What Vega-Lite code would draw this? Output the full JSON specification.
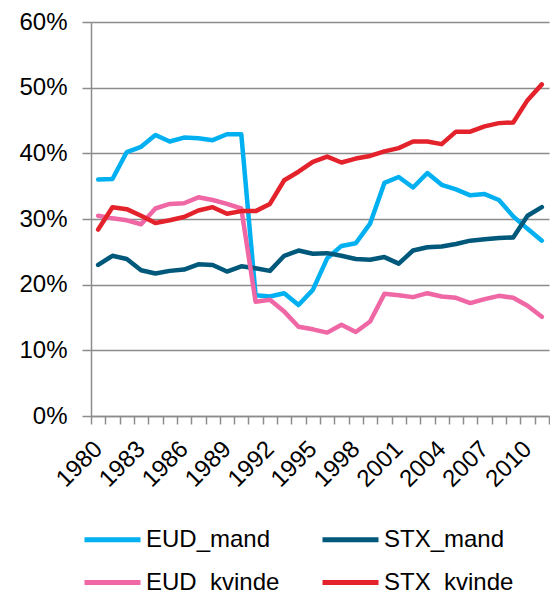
{
  "$schema": "https://vega.github.io/schema/vega-lite/v6.json",
  "width": 458,
  "height": 394,
  "autosize": {"type": "none"},
  "padding": {"left": 91, "top": 22, "right": 1, "bottom": 176},
  "config": {"view": {"stroke": null}, "font": "Liberation Sans"},
  "data": {"values": [
    {"year":1980,"series":"EUD_mand","value":36.0},{"year":1981,"series":"EUD_mand","value":36.1},{"year":1982,"series":"EUD_mand","value":40.2},{"year":1983,"series":"EUD_mand","value":41.0},{"year":1984,"series":"EUD_mand","value":42.8},{"year":1985,"series":"EUD_mand","value":41.8},{"year":1986,"series":"EUD_mand","value":42.4},{"year":1987,"series":"EUD_mand","value":42.3},{"year":1988,"series":"EUD_mand","value":42.0},{"year":1989,"series":"EUD_mand","value":42.9},{"year":1990,"series":"EUD_mand","value":42.9},{"year":1991,"series":"EUD_mand","value":18.4},{"year":1992,"series":"EUD_mand","value":18.2},{"year":1993,"series":"EUD_mand","value":18.7},{"year":1994,"series":"EUD_mand","value":16.9},{"year":1995,"series":"EUD_mand","value":19.2},{"year":1996,"series":"EUD_mand","value":24.0},{"year":1997,"series":"EUD_mand","value":25.9},{"year":1998,"series":"EUD_mand","value":26.3},{"year":1999,"series":"EUD_mand","value":29.3},{"year":2000,"series":"EUD_mand","value":35.5},{"year":2001,"series":"EUD_mand","value":36.4},{"year":2002,"series":"EUD_mand","value":34.8},{"year":2003,"series":"EUD_mand","value":37.0},{"year":2004,"series":"EUD_mand","value":35.2},{"year":2005,"series":"EUD_mand","value":34.5},{"year":2006,"series":"EUD_mand","value":33.6},{"year":2007,"series":"EUD_mand","value":33.8},{"year":2008,"series":"EUD_mand","value":32.9},{"year":2009,"series":"EUD_mand","value":30.4},{"year":2010,"series":"EUD_mand","value":28.5},{"year":2011,"series":"EUD_mand","value":26.7},
    {"year":1980,"series":"STX_mand","value":23.0},{"year":1981,"series":"STX_mand","value":24.4},{"year":1982,"series":"STX_mand","value":23.9},{"year":1983,"series":"STX_mand","value":22.2},{"year":1984,"series":"STX_mand","value":21.7},{"year":1985,"series":"STX_mand","value":22.1},{"year":1986,"series":"STX_mand","value":22.3},{"year":1987,"series":"STX_mand","value":23.1},{"year":1988,"series":"STX_mand","value":23.0},{"year":1989,"series":"STX_mand","value":22.0},{"year":1990,"series":"STX_mand","value":22.8},{"year":1991,"series":"STX_mand","value":22.5},{"year":1992,"series":"STX_mand","value":22.1},{"year":1993,"series":"STX_mand","value":24.4},{"year":1994,"series":"STX_mand","value":25.2},{"year":1995,"series":"STX_mand","value":24.7},{"year":1996,"series":"STX_mand","value":24.8},{"year":1997,"series":"STX_mand","value":24.4},{"year":1998,"series":"STX_mand","value":23.9},{"year":1999,"series":"STX_mand","value":23.8},{"year":2000,"series":"STX_mand","value":24.2},{"year":2001,"series":"STX_mand","value":23.2},{"year":2002,"series":"STX_mand","value":25.2},{"year":2003,"series":"STX_mand","value":25.7},{"year":2004,"series":"STX_mand","value":25.8},{"year":2005,"series":"STX_mand","value":26.2},{"year":2006,"series":"STX_mand","value":26.7},{"year":2007,"series":"STX_mand","value":26.9},{"year":2008,"series":"STX_mand","value":27.1},{"year":2009,"series":"STX_mand","value":27.2},{"year":2010,"series":"STX_mand","value":30.5},{"year":2011,"series":"STX_mand","value":31.8},
    {"year":1980,"series":"EUD_kvinde","value":30.5},{"year":1981,"series":"EUD_kvinde","value":30.1},{"year":1982,"series":"EUD_kvinde","value":29.8},{"year":1983,"series":"EUD_kvinde","value":29.2},{"year":1984,"series":"EUD_kvinde","value":31.6},{"year":1985,"series":"EUD_kvinde","value":32.3},{"year":1986,"series":"EUD_kvinde","value":32.4},{"year":1987,"series":"EUD_kvinde","value":33.3},{"year":1988,"series":"EUD_kvinde","value":32.9},{"year":1989,"series":"EUD_kvinde","value":32.3},{"year":1990,"series":"EUD_kvinde","value":31.6},{"year":1991,"series":"EUD_kvinde","value":17.4},{"year":1992,"series":"EUD_kvinde","value":17.7},{"year":1993,"series":"EUD_kvinde","value":15.9},{"year":1994,"series":"EUD_kvinde","value":13.6},{"year":1995,"series":"EUD_kvinde","value":13.2},{"year":1996,"series":"EUD_kvinde","value":12.7},{"year":1997,"series":"EUD_kvinde","value":13.9},{"year":1998,"series":"EUD_kvinde","value":12.8},{"year":1999,"series":"EUD_kvinde","value":14.4},{"year":2000,"series":"EUD_kvinde","value":18.6},{"year":2001,"series":"EUD_kvinde","value":18.4},{"year":2002,"series":"EUD_kvinde","value":18.1},{"year":2003,"series":"EUD_kvinde","value":18.7},{"year":2004,"series":"EUD_kvinde","value":18.2},{"year":2005,"series":"EUD_kvinde","value":18.0},{"year":2006,"series":"EUD_kvinde","value":17.2},{"year":2007,"series":"EUD_kvinde","value":17.8},{"year":2008,"series":"EUD_kvinde","value":18.3},{"year":2009,"series":"EUD_kvinde","value":18.0},{"year":2010,"series":"EUD_kvinde","value":16.8},{"year":2011,"series":"EUD_kvinde","value":15.1},
    {"year":1980,"series":"STX_kvinde","value":28.4},{"year":1981,"series":"STX_kvinde","value":31.8},{"year":1982,"series":"STX_kvinde","value":31.5},{"year":1983,"series":"STX_kvinde","value":30.5},{"year":1984,"series":"STX_kvinde","value":29.4},{"year":1985,"series":"STX_kvinde","value":29.8},{"year":1986,"series":"STX_kvinde","value":30.3},{"year":1987,"series":"STX_kvinde","value":31.3},{"year":1988,"series":"STX_kvinde","value":31.8},{"year":1989,"series":"STX_kvinde","value":30.8},{"year":1990,"series":"STX_kvinde","value":31.2},{"year":1991,"series":"STX_kvinde","value":31.2},{"year":1992,"series":"STX_kvinde","value":32.3},{"year":1993,"series":"STX_kvinde","value":35.9},{"year":1994,"series":"STX_kvinde","value":37.2},{"year":1995,"series":"STX_kvinde","value":38.7},{"year":1996,"series":"STX_kvinde","value":39.5},{"year":1997,"series":"STX_kvinde","value":38.6},{"year":1998,"series":"STX_kvinde","value":39.2},{"year":1999,"series":"STX_kvinde","value":39.6},{"year":2000,"series":"STX_kvinde","value":40.3},{"year":2001,"series":"STX_kvinde","value":40.8},{"year":2002,"series":"STX_kvinde","value":41.8},{"year":2003,"series":"STX_kvinde","value":41.8},{"year":2004,"series":"STX_kvinde","value":41.4},{"year":2005,"series":"STX_kvinde","value":43.3},{"year":2006,"series":"STX_kvinde","value":43.3},{"year":2007,"series":"STX_kvinde","value":44.1},{"year":2008,"series":"STX_kvinde","value":44.6},{"year":2009,"series":"STX_kvinde","value":44.7},{"year":2010,"series":"STX_kvinde","value":48.1},{"year":2011,"series":"STX_kvinde","value":50.5}
  ]},
  "mark": {"type": "line", "strokeWidth": 4.5, "strokeCap": "round", "strokeJoin": "round"},
  "encoding": {
    "x": {
      "field": "year", "type": "ordinal", "bandPosition": 0.5,
      "scale": {"type": "band", "paddingInner": 0, "paddingOuter": 0},
      "axis": {
        "title": null, "tickBand": "extent",
        "labelExpr": "(datum.value - 1980) % 3 === 0 ? datum.label : ''",
        "labelAngle": -45, "labelAlign": "right", "labelBaseline": "middle",
        "labelFontSize": 24, "labelColor": "#000000", "labelPadding": 21,
        "tickSize": 8, "tickColor": "#8c8c8c", "tickWidth": 1.5,
        "domainColor": "#8c8c8c", "domainWidth": 1.5, "grid": false
      }
    },
    "y": {
      "field": "value", "type": "quantitative",
      "scale": {"domain": [0, 60], "nice": false},
      "axis": {
        "title": null, "values": [0, 10, 20, 30, 40, 50, 60],
        "labelExpr": "datum.value + '%'",
        "labelFontSize": 24, "labelColor": "#000000", "labelPadding": 15,
        "tickSize": 9, "tickColor": "#8c8c8c", "tickWidth": 1.5,
        "domainColor": "#8c8c8c", "domainWidth": 1.5,
        "grid": true, "gridColor": "#8c8c8c", "gridWidth": 1.5
      }
    },
    "color": {
      "field": "series", "type": "nominal",
      "scale": {
        "domain": ["EUD_mand", "STX_mand", "EUD_kvinde", "STX_kvinde"],
        "range": ["#00b0f0", "#00587a", "#ef67a4", "#e3222b"]
      },
      "legend": {
        "title": null, "orient": "none", "legendX": -9, "legendY": 487,
        "columns": 2, "direction": "horizontal", "columnPadding": 32, "rowPadding": 0,
        "symbolType": "stroke", "symbolSize": 3136, "symbolStrokeWidth": 5,
        "labelFontSize": 24, "labelColor": "#000000", "labelOffset": 3
      }
    }
  }
}
